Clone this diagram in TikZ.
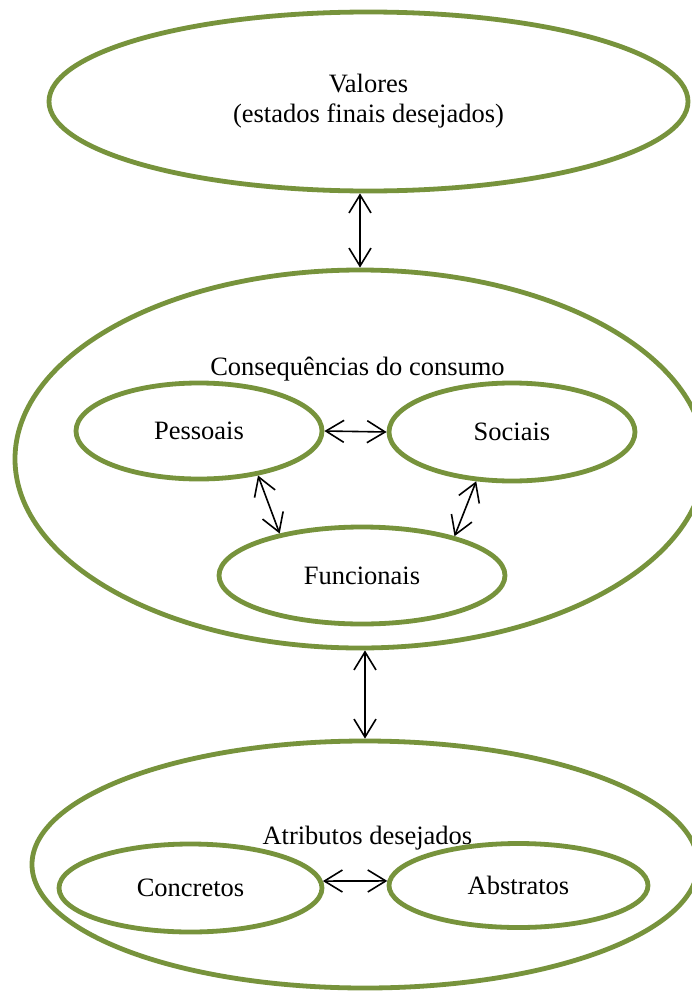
\documentclass[tikz,border=0pt]{standalone}
\usepackage{fontspec}
\setmainfont{Liberation Serif}
\usetikzlibrary{shapes.geometric,arrows.meta}
\definecolor{olivering}{HTML}{77933C}
\begin{document}
\begin{tikzpicture}[x=1pt,y=-1pt,
  ring/.style={ellipse, draw=olivering, line width=4.8pt, inner sep=0pt,
    align=center, font=\fontsize{26.5}{30}\selectfont},
  lbl/.style={inner sep=0pt, anchor=base, font=\fontsize{26.5}{30}\selectfont},
  link/.style={{Straight Barb[length=18pt,width=22pt]}-{Straight Barb[length=18pt,width=22pt]},
    line width=1.6pt, black}]
  % page
  \path[use as bounding box, fill=white] (0,0) rectangle (692,993);

  % outer levels
  \node[ring, minimum width=639pt, minimum height=179pt] (val) at (368.5,101.5)
    {Valores\\(estados finais desejados)};
  \node[ring, minimum width=690pt, minimum height=378pt] (cons) at (360,459) {};
  \node[ring, minimum width=666pt, minimum height=247pt] (atr) at (365,864.5) {};

  % consequences of consumption
  \node[lbl] (tcons) at (357.5,375) {Consequências do consumo};
  \node[ring, minimum width=246pt, minimum height=96pt] (pes) at (199,431) {Pessoais};
  \node[ring, minimum width=246pt, minimum height=98pt] (soc) at (512,432) {Sociais};
  \node[ring, minimum width=286pt, minimum height=97pt] (fun) at (362,575.5) {Funcionais};

  % desired attributes
  \node[lbl] (tatr) at (367.4,844) {Atributos desejados};
  \node[ring, minimum width=263pt, minimum height=88pt] (con) at (190.5,888) {Concretos};
  \node[ring, minimum width=259pt, minimum height=84pt] (abs) at (518.5,885.5) {Abstratos};

  % links between levels
  \draw[link] (cons.north |- val.south) -- (cons.north);
  \draw[link] (atr.north |- cons.south) -- (atr.north);

  % links inside the levels
  \draw[link] (pes.east) -- (soc.west);
  \draw[link] (pes.-37) -- (fun.153);
  \draw[link] (soc.234) -- (fun.23);
  \draw[link] (con.3.5) -- (abs.178.4);
\end{tikzpicture}
\end{document}
